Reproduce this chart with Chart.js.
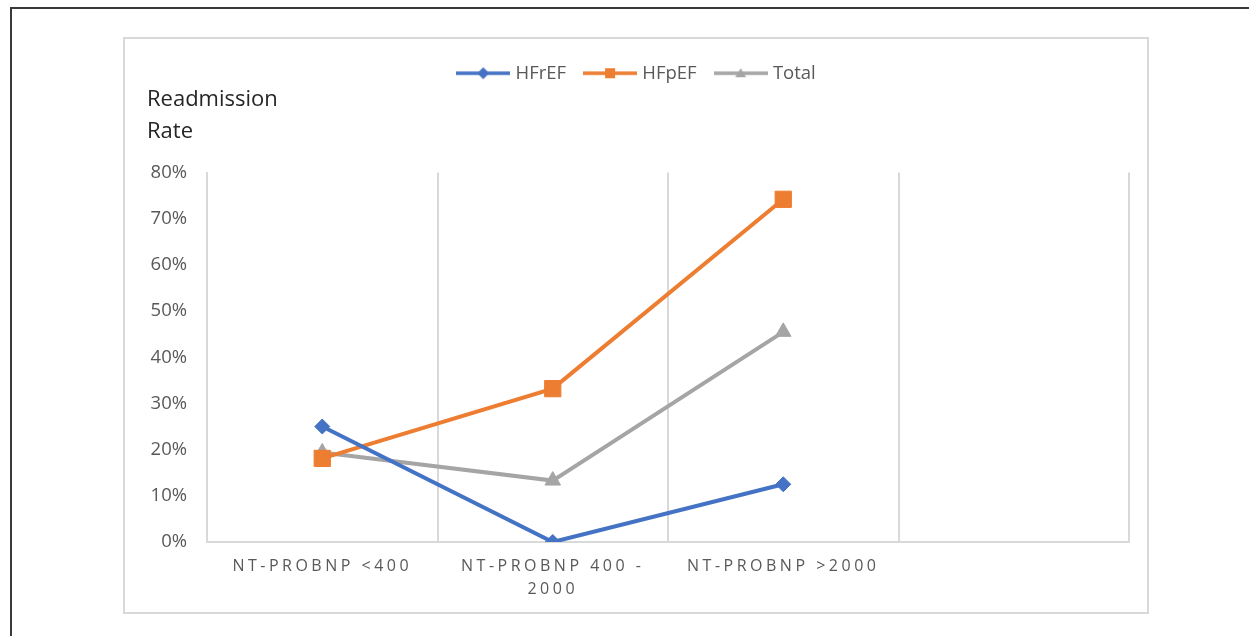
<!DOCTYPE html>
<html>
<head>
<meta charset="utf-8">
<script src="https://cdn.jsdelivr.net/npm/chart.js@4.4.1/dist/chart.umd.min.js"></script>
<style>
  html, body { margin: 0; padding: 0; background: #fff; width: 1249px; height: 636px; overflow: hidden; }
  #page {
    position: absolute; left: 10px; top: 7px; width: 1260px; height: 660px;
    border: 2px solid #3a3a3a; box-sizing: border-box;
  }
  #frame {
    position: absolute; left: 123px; top: 37px; width: 1026px; height: 577px;
    border: 2px solid #d9d9d9; box-sizing: border-box; background: #fff;
  }
  #frame canvas { position: absolute; left: 0; top: 0; }
</style>
</head>
<body>
<div id="page"></div>
<div id="frame"><canvas id="chart" width="1022" height="573"></canvas></div>
<script>
// Readmission rate (%) by NT-proBNP group
const categories = ['NT-PROBNP <400', ['NT-PROBNP 400 -', '2000'], 'NT-PROBNP >2000', ''];
const hfrefValues = [25, 0, 12.5, null];
const hfpefValues = [18.1, 33.2, 74.2, null];
const totalValues = [19.4, 13.3, 45.5, null];
const yTicks = [0, 10, 20, 30, 40, 50, 60, 70, 80];

const BLUE = '#4472c4', ORANGE = '#ed7d31', GREY = '#a5a5a5';
const TEXT = '#595959', GRID = '#d9d9d9';

// Legend symbol: a short line with the series marker in its middle
function legendSymbol(color, shape) {
  const c = document.createElement('canvas');
  c.width = 54; c.height = 16;
  const g = c.getContext('2d');
  g.strokeStyle = color; g.fillStyle = color; g.lineWidth = 3.5;
  g.beginPath(); g.moveTo(0, 8); g.lineTo(54, 8); g.stroke();
  g.beginPath();
  if (shape === 'diamond') {
    g.moveTo(27, 2); g.lineTo(33, 8); g.lineTo(27, 14); g.lineTo(21, 8);
  } else if (shape === 'square') {
    g.rect(22, 3, 10, 10);
  } else {
    g.moveTo(27, 3); g.lineTo(32.5, 12); g.lineTo(21.5, 12);
  }
  g.closePath(); g.fill();
  return c;
}
const symbols = [legendSymbol(BLUE, 'diamond'), legendSymbol(ORANGE, 'square'), legendSymbol(GREY, 'triangle')];

// Widely tracked category labels on the x axis
const trackedXLabels = {
  id: 'trackedXLabels',
  beforeDraw(chart) {
    const sc = chart.scales.x;
    if (sc && !sc._tracked) {
      const orig = sc.drawLabels.bind(sc);
      sc.drawLabels = function (area) {
        const ctx = chart.ctx;
        ctx.save();
        ctx.letterSpacing = '3.5px';
        orig(area);
        ctx.restore();
      };
      sc._tracked = true;
    }
  }
};

new Chart(document.getElementById('chart'), {
  type: 'line',
  data: {
    labels: categories,
    datasets: [
      { label: 'HFrEF', data: hfrefValues, borderColor: BLUE, backgroundColor: BLUE,
        borderWidth: 4, pointStyle: 'rectRot', pointRadius: 7.5, pointHoverRadius: 7.5, pointBorderWidth: 1 },
      { label: 'HFpEF', data: hfpefValues, borderColor: ORANGE, backgroundColor: ORANGE,
        borderWidth: 4, pointStyle: 'rect', pointRadius: 11.5, pointHoverRadius: 11.5, pointBorderWidth: 1 },
      { label: 'Total', data: totalValues, borderColor: GREY, backgroundColor: GREY,
        borderWidth: 4, pointStyle: 'triangle', pointRadius: 9, pointHoverRadius: 9, pointBorderWidth: 1 }
    ]
  },
  options: {
    responsive: false,
    animation: false,
    spanGaps: false,
    layout: { padding: { left: 22, right: 18, top: 4, bottom: 0 } },
    plugins: {
      tooltip: { enabled: false },
      legend: {
        position: 'top',
        weight: 3000,
        labels: {
          usePointStyle: true,
          pointStyleWidth: 46,
          boxHeight: 16,
          padding: 21,
          color: TEXT,
          font: { family: 'Open Sans', size: 18.5 },
          generateLabels(chart) {
            return chart.data.datasets.map((ds, i) => ({
              text: ds.label, fillStyle: ds.borderColor, strokeStyle: ds.borderColor,
              fontColor: TEXT, lineWidth: 0, pointStyle: symbols[i], datasetIndex: i, hidden: false
            }));
          }
        }
      },
      title: {
        display: true,
        text: ['Readmission', 'Rate'],
        align: 'start',
        weight: 500,
        color: '#262626',
        font: { family: 'Open Sans', size: 22, weight: 'normal', lineHeight: 32 / 22 },
        padding: { top: -9, bottom: 25 }
      }
    },
    scales: {
      x: {
        offset: true,
        grid: { display: true, offset: true, color: GRID, lineWidth: 2, drawTicks: false },
        border: { display: true, color: GRID, width: 2 },
        ticks: {
          color: TEXT, autoSkip: false, maxRotation: 0, minRotation: 0, padding: 13,
          font: { family: 'Open Sans', size: 16, lineHeight: 1.45 }
        },
        afterFit(scale) { scale.height = 70; }
      },
      y: {
        min: 0, max: 80,
        afterBuildTicks(scale) { scale.ticks = yTicks.map(v => ({ value: v })); },
        grid: { display: false, drawTicks: false },
        border: { display: true, color: GRID, width: 2 },
        ticks: {
          color: TEXT, padding: 20,
          font: { family: 'Open Sans', size: 18.5 },
          callback: v => v + '%'
        },
        afterFit(scale) { scale.width = 60; }
      }
    }
  },
  plugins: [trackedXLabels]
});
</script>
</body>
</html>
